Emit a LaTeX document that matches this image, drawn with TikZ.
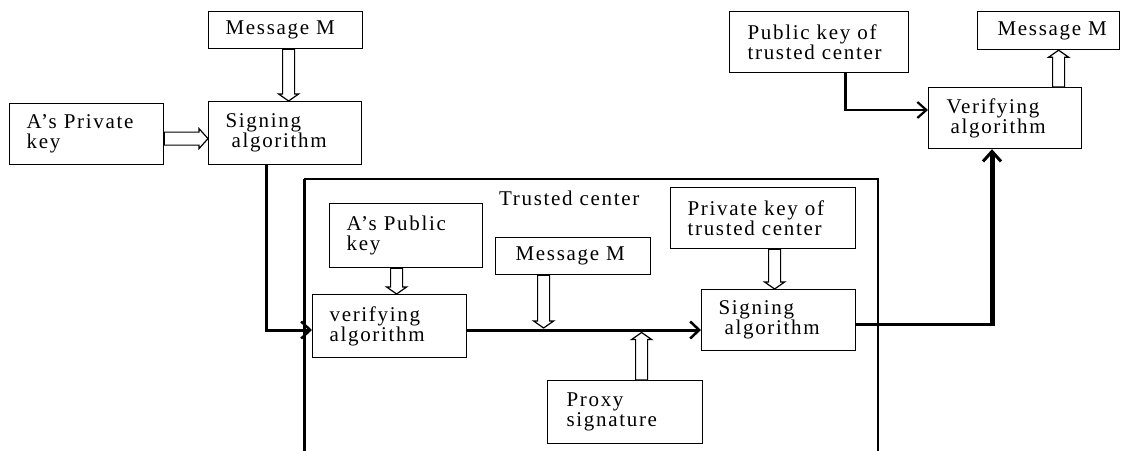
\documentclass[tikz,border=0pt]{standalone}
\usepackage{fontspec}
\setmainfont{Liberation Serif}[LetterSpace=8]
\usetikzlibrary{arrows.meta,calc}
\tikzset{
  box/.style={draw,line width=1.2pt,rectangle,align=left,inner xsep=17pt,inner ysep=0pt,
    font=\fontsize{21}{20}\selectfont,anchor=north west},
  hollow/.style={draw,line width=1.2pt,fill=white,line join=miter},
  thickarr/.style={line width=3pt,-{Straight Barb[length=9pt,width=17pt,line width=2.5pt]}},
  frame/.style={line width=1.2pt}
}
% vertical hollow block arrow: #1 start point, #2 point giving end y
\newcommand\hollowV[2]{%
  \path[hollow] let \p1=(#1), \p2=(#2), \n1={(\y2-\y1)/abs(\y2-\y1)} in
    (\x1-6pt,\y1) -- (\x1-6pt,\y2-\n1*7pt) -- (\x1-10pt,\y2-\n1*7pt) -- (\x1,\y2)
    -- (\x1+10pt,\y2-\n1*7pt) -- (\x1+6pt,\y2-\n1*7pt) -- (\x1+6pt,\y1) -- cycle;}
% horizontal hollow block arrow
\newcommand\hollowH[2]{%
  \path[hollow] let \p1=(#1), \p2=(#2), \n1={(\x2-\x1)/abs(\x2-\x1)} in
    (\x1,\y1+6.5pt) -- (\x2-\n1*9pt,\y1+6.5pt) -- (\x2-\n1*9pt,\y1+10pt) -- (\x2,\y1)
    -- (\x2-\n1*9pt,\y1-10pt) -- (\x2-\n1*9pt,\y1-6.5pt) -- (\x1,\y1-6.5pt) -- cycle;}
\begin{document}
\begin{tikzpicture}[x=1pt,y=-1pt]
\useasboundingbox (0,0) rectangle (1121,450);
% trusted center frame
\draw[frame] (304,179) -- (878,179) -- (878,452);
\draw[line width=3pt] (304,179) -- (304,452);
\node[font=\fontsize{21}{20}\selectfont,anchor=base west,inner sep=0pt] (tctext) at (499,205) {Trusted~center};

% boxes (top-left corners, widths, heights)
\node[box,text width=120pt,minimum height=37pt] (msg1) at (208,11) {Message~M};
\node[box,text width=119pt,minimum height=63pt] (sign1) at (208,101) {Signing\\\hspace*{6pt}algorithm};
\node[box,text width=120pt,minimum height=61pt] (priv) at (9,103) {A’s~Private\\key};
\node[box,text width=119pt,minimum height=64pt] (pub) at (329,203) {A’s~Public\\key};
\node[box,text width=120pt,minimum height=63pt] (ver1) at (312,294) {verifying\\algorithm};
\node[box,minimum height=37pt,inner xsep=20pt,text width=115pt] (msg2) at (495,237) {Message~M};
\node[box,text width=117pt,minimum height=63pt,inner xsep=19pt] (proxy) at (547,380) {Proxy\\signature};
\node[box,text width=151pt,minimum height=61pt] (privtc) at (670,187) {Private~key~of\\trusted~center};
\node[box,text width=120pt,minimum height=61pt] (sign2) at (701,289) {Signing\\\hspace*{6pt}algorithm};
\node[box,text width=143pt,minimum height=61pt,inner xsep=18pt] (pubtc) at (729,11) {Public~key~of\\trusted~center};
\node[box,minimum height=38pt,inner xsep=20pt,text width=102pt] (msg3) at (977,11) {Message~M};
\node[box,text width=117pt,minimum height=61pt,inner xsep=18pt] (ver2) at (928,87) {Verifying\\\hspace*{4pt}algorithm};

% connector corner points
\coordinate (c1) at ($(sign1.south)+(-18.5,0)$);
\coordinate (c1b) at (c1 |- 0,330);
\coordinate (c2) at ($(pubtc.south)+(26.5,0)$);
\coordinate (c2b) at (c2 |- 0,110);
\coordinate (c3) at (992,324);
\coordinate (tl) at (ver1.east |- 0,330);

% hollow arrows
\hollowV{$(msg1.south)+(3,0)$}{sign1.north}
\hollowH{$(priv.east)+(0,4.5)$}{sign1.west}
\hollowV{$(pub.south)+(-9.5,0)$}{ver1.north}
\hollowV{$(msg2.south)+(-29.5,0)$}{$(tl)+(0,-2)$}
\hollowV{$(proxy.north)+(16.5,0)$}{$(tl)+(0,2.5)$}
\hollowV{$(privtc.south)+(11.5,0)$}{sign2.north}
\hollowV{$(ver2.north)+(53.5,0)$}{msg3.south}

% thick connectors
\draw[line width=3pt,line join=miter] (c1) -- (c1b);
\draw[thickarr] ($(c1b)+(-1.5,0)$) -- (ver1.west |- c1b);
\draw[thickarr] (tl) -- (sign2.west |- tl);
\draw[line width=3pt] (sign2.east |- c3) -- ($(c3)+(2.5,0)$);
\draw[line width=5pt,-{Straight Barb[length=10pt,width=18pt,line width=3pt]}] ($(c3)+(0,1.5)$) -- (c3 |- ver2.south);
\draw[line width=2.5pt,line join=miter,-{Straight Barb[length=9pt,width=16pt,line width=2.2pt]}] (c2) -- (c2b) -- (ver2.west |- c2b);
\end{tikzpicture}
\end{document}
